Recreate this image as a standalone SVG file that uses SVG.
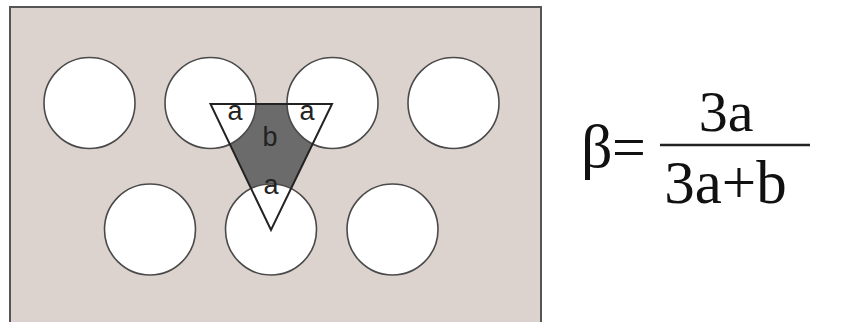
<svg xmlns="http://www.w3.org/2000/svg" width="857" height="322" viewBox="0 0 857 322">
<style>
.hole{fill:#ffffff;stroke:#4a4a4a;stroke-width:1.6}
.lbl{font-family:'Liberation Sans',Arial,sans-serif;font-size:27px;fill:#222;text-anchor:middle}
text.eq{font-family:'Liberation Serif',serif;fill:#111}
</style>
<rect x="0" y="0" width="857" height="322" fill="#ffffff"/>
<g id="plate">
<rect x="10" y="7" width="531" height="330" fill="#ddd3ce" stroke="#555" stroke-width="2"/>
</g>
<g id="cell">
<polygon points="210.5,104 332,104 271,230" fill="#6b6b6b"/>
</g>
<g id="holes">
<circle class="hole" cx="89.5" cy="103" r="45.5"/>
<circle class="hole" cx="210.5" cy="103" r="45.5"/>
<circle class="hole" cx="332.5" cy="103" r="45.5"/>
<circle class="hole" cx="453.5" cy="103" r="45.5"/>
<circle class="hole" cx="150" cy="229.5" r="45.5"/>
<circle class="hole" cx="271" cy="229.5" r="45.5"/>
<circle class="hole" cx="392.5" cy="229.5" r="45.5"/>
</g>
<g id="triangle">
<polygon points="210.5,104 332,104 271,230" fill="none" stroke="#222" stroke-width="2"/>
<text class="lbl" x="235" y="120">a</text>
<text class="lbl" x="307" y="120">a</text>
<text class="lbl" x="270" y="146">b</text>
<text class="lbl" x="271" y="194">a</text>
</g>
<g id="formula">
<text class="eq" x="581" y="167" font-size="62">β</text>
<text class="eq" x="612" y="167" font-size="60">=</text>
<line x1="660" y1="145" x2="810" y2="145" stroke="#222" stroke-width="2.5"/>
<text class="eq" x="726" y="131" font-size="58" text-anchor="middle">3a</text>
<text class="eq" x="725.5" y="203" font-size="61" text-anchor="middle">3a+b</text>
</g>
</svg>
